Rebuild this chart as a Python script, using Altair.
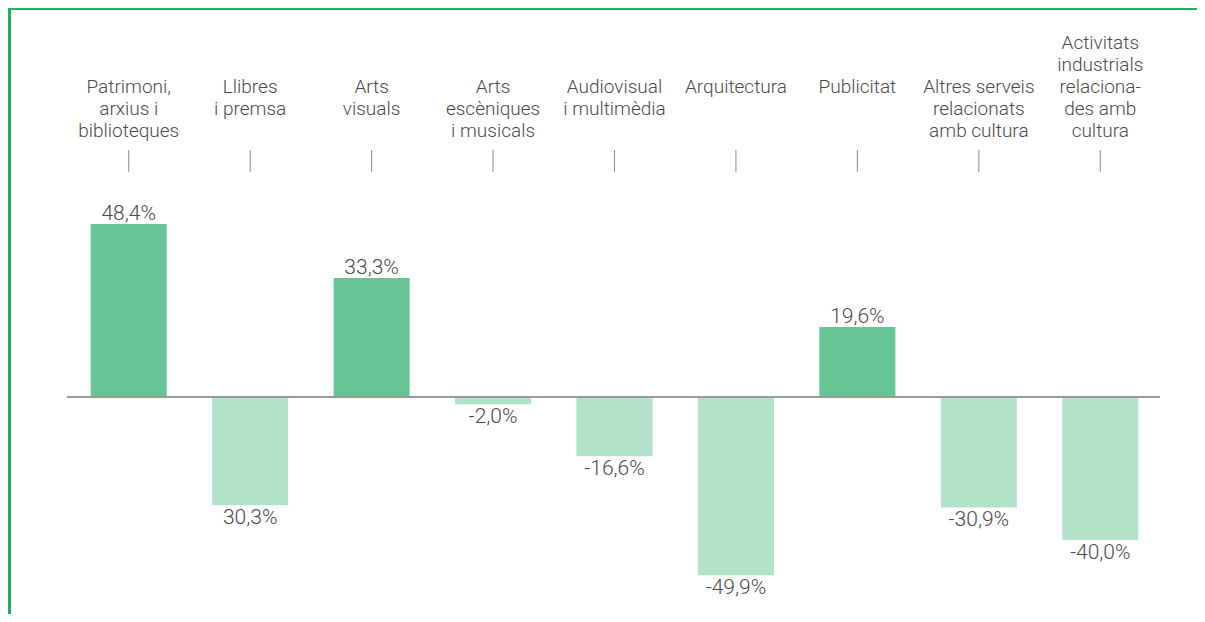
import altair as alt
import pandas as pd

categories = [
    "Patrimoni, arxius i biblioteques",
    "Llibres i premsa",
    "Arts visuals",
    "Arts escèniques i musicals",
    "Audiovisual i multimèdia",
    "Arquitectura",
    "Publicitat",
    "Altres serveis relacionats amb cultura",
    "Activitats industrials relacionades amb cultura",
]
label_lines = [
    ["Patrimoni,", "arxius i", "biblioteques"],
    ["Llibres", "i premsa"],
    ["Arts", "visuals"],
    ["Arts", "escèniques", "i musicals"],
    ["Audiovisual", "i multimèdia"],
    ["Arquitectura"],
    ["Publicitat"],
    ["Altres serveis", "relacionats", "amb cultura"],
    ["Activitats", "industrials", "relaciona-", "des amb", "cultura"],
]
values = [48.4, -30.3, 33.3, -2.0, -16.6, -49.9, 19.6, -30.9, -40.0]
value_labels = ["48,4%", "30,3%", "33,3%", "-2,0%", "-16,6%", "-49,9%", "19,6%", "-30,9%", "-40,0%"]

df = pd.DataFrame({"cat": categories, "value": values, "label": value_labels})
df["sign"] = ["pos" if v >= 0 else "neg" for v in values]

rows = []
for c, lines in zip(categories, label_lines):
    shift = max(0, len(lines) - 3)
    for i, t in enumerate(lines):
        rows.append({"cat": c, "line": t, "row": i - shift})
df_lab = pd.DataFrame(rows)

W, H = 1189, 606
xscale = alt.Scale(domain=categories, range=[60, 1153], paddingInner=0.374, paddingOuter=0.187)
yscale = alt.Scale(domain=[-60, 60], range=[603.4, 174.6])
X = alt.X("cat:N", scale=xscale, axis=None, sort=categories)
FONT = "Roboto"
TXT = "#4a4a4a"

bars = alt.Chart(df).mark_bar().encode(
    x=X,
    y=alt.Y("value:Q", scale=yscale, axis=None),
    y2=alt.datum(0),
    color=alt.Color("sign:N", scale=alt.Scale(domain=["pos", "neg"], range=["#66c495", "#b3e2cb"]), legend=None),
)

pos_text = alt.Chart(df).transform_filter("datum.value >= 0").mark_text(
    font=FONT, fontSize=21, fontWeight=300, color=TXT, baseline="alphabetic", dy=-4
).encode(x=X, y=alt.Y("value:Q", scale=yscale, axis=None), text="label:N")

neg_text = alt.Chart(df).transform_filter("datum.value < 0").mark_text(
    font=FONT, fontSize=21, fontWeight=300, color=TXT, baseline="alphabetic", dy=19
).encode(x=X, y=alt.Y("value:Q", scale=yscale, axis=None), text="label:N")

zero = alt.Chart(df).mark_rule(color="#999999", strokeWidth=1.5).encode(
    x=alt.value(59), x2=alt.value(1152), y=alt.value(389)
)

ticks = alt.Chart(df).mark_rule(color="#8c8c8c", strokeWidth=1).encode(
    x=X, y=alt.value(142), y2=alt.value(164)
)

cat_text = alt.Chart(df_lab).mark_text(
    font=FONT, fontSize=19, fontWeight=300, color=TXT, baseline="alphabetic"
).encode(
    x=X,
    y=alt.Y("row:Q", scale=alt.Scale(domain=[-2, 2], range=[41.4, 128.6]), axis=None),
    text="line:N",
)

border_top = alt.Chart(df).mark_rule(color="#22ad60", strokeWidth=2).encode(
    x=alt.value(1), x2=alt.value(W), y=alt.value(1)
)
border_left = alt.Chart(df).mark_rule(color="#22ad60", strokeWidth=2).encode(
    x=alt.value(1.5), y=alt.value(0), y2=alt.value(H)
)

chart = alt.layer(
    bars, pos_text, neg_text, zero, ticks, cat_text, border_top, border_left
).resolve_scale(y="independent").properties(
    width=W, height=H, autosize=alt.AutoSizeParams(type="none"), padding=0
).configure_view(stroke=None)

chart.save("out.html", embed_options={"renderer": "svg", "actions": False})
